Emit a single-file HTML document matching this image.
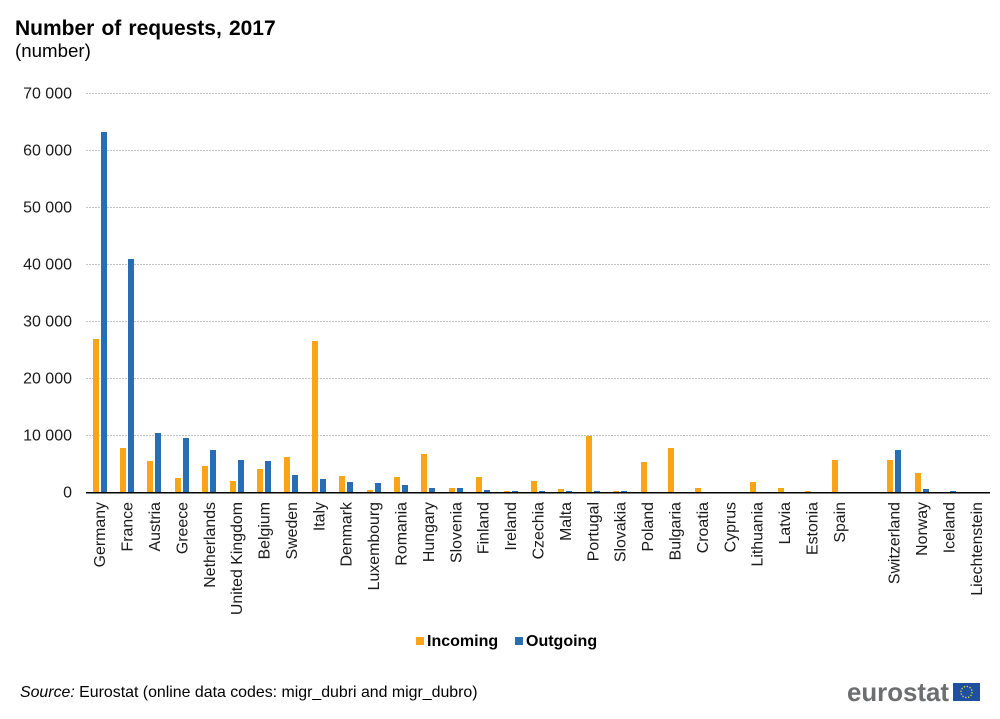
<!DOCTYPE html>
<html lang="en">
<head>
<meta charset="utf-8">
<title>Number of requests, 2017</title>
<style>
html,body{margin:0;padding:0;background:#fff;}
svg{display:block;font-family:"Liberation Sans",Arial,sans-serif;}
</style>
</head>
<body>
<svg id="chart" width="1000" height="719" viewBox="0 0 1000 719" xmlns="http://www.w3.org/2000/svg">
  <text x="15" y="35" font-size="21" font-weight="bold" fill="#000" word-spacing="1.3">Number of requests, 2017</text>
  <text x="15" y="57" font-size="18.7" fill="#000">(number)</text>
  <g id="grid"></g>
  <g id="yticks"></g>
  <g id="bars"></g>
  <line x1="86" x2="990" y1="492.75" y2="492.75" stroke="#000" stroke-width="1.5"/>
  <g id="xticks"></g>
  <g>
    <rect x="416" y="637" width="8" height="8" fill="#faa519"/>
    <text x="427" y="646" font-size="16" font-weight="bold" fill="#000">Incoming</text>
    <rect x="515" y="637" width="8" height="8" fill="#286eb4"/>
    <text x="526" y="646" font-size="16" font-weight="bold" fill="#000">Outgoing</text>
  </g>
  <text x="20" y="697" font-size="15.9" fill="#000"><tspan font-style="italic">Source:</tspan> Eurostat (online data codes: migr_dubri and migr_dubro)</text>
  <g>
    <text x="847" y="701" font-size="26" font-weight="bold" fill="#6d6e70" textLength="102" lengthAdjust="spacingAndGlyphs">eurostat</text>
    <rect x="953" y="683" width="27" height="18" fill="#1f4f9f"/>
    <circle cx="966.5" cy="692" r="5.6" fill="none" stroke="#d8d83a" stroke-width="1.3" stroke-dasharray="1.4 1.53"/>
  </g>
</svg>
<script>
const categories = ["Germany","France","Austria","Greece","Netherlands","United Kingdom","Belgium","Sweden","Italy","Denmark","Luxembourg","Romania","Hungary","Slovenia","Finland","Ireland","Czechia","Malta","Portugal","Slovakia","Poland","Bulgaria","Croatia","Cyprus","Lithuania","Latvia","Estonia","Spain","","Switzerland","Norway","Iceland","Liechtenstein"];
const incoming = [26900,7800,5400,2500,4600,1900,4100,6200,26500,2800,400,2650,6700,700,2650,200,1900,500,9900,200,5300,7750,700,0,1750,700,200,5650,null,5650,3300,0,0];
const outgoing = [63200,41000,10400,9500,7400,5600,5400,3000,2300,1800,1600,1200,700,700,350,200,200,200,200,200,0,0,0,0,0,0,0,0,null,7400,500,200,0];
const tickValues = [0,10000,20000,30000,40000,50000,60000,70000];
const tickLabels = ["0","10 000","20 000","30 000","40 000","50 000","60 000","70 000"];

const NS = "http://www.w3.org/2000/svg";
const plotLeft = 86, plotRight = 990, plotBottom = 492.2, plotTop = 93.2, maxValue = 70000;
const y = v => plotBottom - (v / maxValue) * (plotBottom - plotTop);
const xCenter = i => plotLeft + (plotRight - plotLeft) / categories.length * (i + 0.5);

const gridG = document.getElementById("grid");
const ytG = document.getElementById("yticks");
tickValues.forEach((v, i) => {
  if (v > 0) {
    const l = document.createElementNS(NS, "line");
    
    
    l.setAttribute("x1", plotLeft);
    l.setAttribute("x2", plotRight);
    l.setAttribute("y1", Math.round(y(v)) + 0.5);
    l.setAttribute("y2", Math.round(y(v)) + 0.5);
    l.setAttribute("stroke", "#c4c4c4");
    l.setAttribute("stroke-width", "1");
    l.setAttribute("stroke-dasharray", "2 1");
    gridG.appendChild(l);
  }
  const t = document.createElementNS(NS, "text");
  
  
  t.setAttribute("x", 72);
  t.setAttribute("y", y(v) + 5.5);
  t.setAttribute("text-anchor", "end");
  t.setAttribute("font-size", "16");
  t.setAttribute("fill", "#1a1a1a");
  t.textContent = tickLabels[i];
  ytG.appendChild(t);
});

const barsG = document.getElementById("bars");
function addBar(x, v, color, name) {
  if (v === null || v <= 0) return;
  const top = Math.round(y(v));
  const r = document.createElementNS(NS, "rect");
  
  
  r.setAttribute("x", Math.round(x));
  r.setAttribute("y", top);
  r.setAttribute("width", 6);
  r.setAttribute("height", 492 - top);
  r.setAttribute("fill", color);
  barsG.appendChild(r);
}
const xtG = document.getElementById("xticks");
categories.forEach((c, i) => {
  const cx = xCenter(i);
  addBar(cx - 7, incoming[i], "#faa519", "bar-incoming");
  addBar(cx + 1, outgoing[i], "#286eb4", "bar-outgoing");
  if (c) {
    const t = document.createElementNS(NS, "text");
    
    
    t.setAttribute("text-anchor", "end");
    t.setAttribute("font-size", "15.9");
    t.setAttribute("fill", "#1a1a1a");
    t.setAttribute("transform", "translate(" + (cx + 5.5) + ",502) rotate(-90)");
    t.textContent = c;
    xtG.appendChild(t);
  }
});
</script>
</body>
</html>
